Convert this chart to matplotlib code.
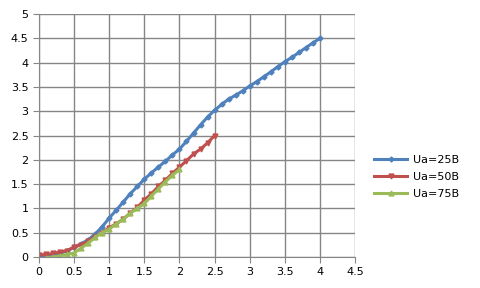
import matplotlib
matplotlib.use("Agg")
import matplotlib.pyplot as plt
import numpy as np

x25 = [0, 0.1, 0.2, 0.3, 0.4, 0.5, 0.6, 0.7, 0.8, 0.9, 1.0, 1.1, 1.2, 1.3, 1.4, 1.5,
       1.6, 1.7, 1.8, 1.9, 2.0, 2.1, 2.2, 2.3, 2.4, 2.5, 2.6, 2.7, 2.8, 2.9, 3.0,
       3.1, 3.2, 3.3, 3.4, 3.5, 3.6, 3.7, 3.8, 3.9, 4.0]
y25 = [0, 0.02, 0.05, 0.08, 0.12, 0.2, 0.27, 0.35, 0.47, 0.62, 0.8, 0.96, 1.13, 1.3, 1.45, 1.6,
       1.73, 1.85, 1.97, 2.1, 2.22, 2.38, 2.55, 2.72, 2.88, 3.02, 3.14, 3.25, 3.33, 3.42, 3.52,
       3.61, 3.71, 3.81, 3.92, 4.02, 4.11, 4.21, 4.31, 4.41, 4.5]
x50 = [0, 0.1, 0.2, 0.3, 0.4, 0.5, 0.6, 0.7, 0.8, 0.9, 1.0, 1.1, 1.2, 1.3, 1.4, 1.5,
       1.6, 1.7, 1.8, 1.9, 2.0, 2.1, 2.2, 2.3, 2.4, 2.5]
y50 = [0.04, 0.05, 0.07, 0.1, 0.13, 0.2, 0.25, 0.32, 0.42, 0.5, 0.6, 0.68, 0.78, 0.9, 1.02, 1.17,
       1.3, 1.45, 1.58, 1.72, 1.85, 1.98, 2.12, 2.22, 2.35, 2.5]
x75 = [0, 0.1, 0.2, 0.3, 0.4, 0.5, 0.6, 0.7, 0.8, 0.9, 1.0, 1.1, 1.2, 1.3, 1.4, 1.5,
       1.6, 1.7, 1.8, 1.9, 2.0]
y75 = [-0.05, -0.03, 0.0, 0.02, 0.05, 0.08, 0.18, 0.28, 0.4, 0.5, 0.57, 0.68, 0.78, 0.9, 1.0, 1.1,
       1.25, 1.4, 1.55, 1.68, 1.8]
labels = ["Ua=25B", "Ua=50B", "Ua=75B"]

fig = plt.figure(figsize=(4.8, 2.88), dpi=100)
ax = fig.add_axes([0.081, 0.108, 0.659, 0.843])

ax.plot(x25, y25, color="#4F81BD", lw=2.2, marker="D", ms=2.5, label=labels[0])
ax.plot(x50, y50, color="#C0504D", lw=2.2, marker="v", ms=3.5, label=labels[1])
ax.plot(x75, y75, color="#9BBB59", lw=2.2, marker="^", ms=3.5, label=labels[2])

ax.set_xlim(0, 4.5)
ax.set_ylim(0, 5)
ax.set_xticks(np.arange(0, 4.51, 0.5))
ax.set_yticks(np.arange(0, 5.01, 0.5))
ax.set_xticklabels(["0", "0.5", "1", "1.5", "2", "2.5", "3", "3.5", "4", "4.5"])
ax.set_yticklabels(["0", "0.5", "1", "1.5", "2", "2.5", "3", "3.5", "4", "4.5", "5"])
ax.grid(True, color="#868686", lw=1)
ax.set_axisbelow(True)
for s in ["top", "right"]:
    ax.spines[s].set_visible(False)
for s in ["left", "bottom"]:
    ax.spines[s].set_color("#868686")
ax.tick_params(colors="#868686", labelcolor="black", labelsize=8, length=4)

ax.legend(loc="center left", bbox_to_anchor=(1.045, 0.33), frameon=False, fontsize=8,
          handlelength=3, labelspacing=0.65, handletextpad=0.5, borderaxespad=0)

fig.savefig("out.png", dpi=100)
